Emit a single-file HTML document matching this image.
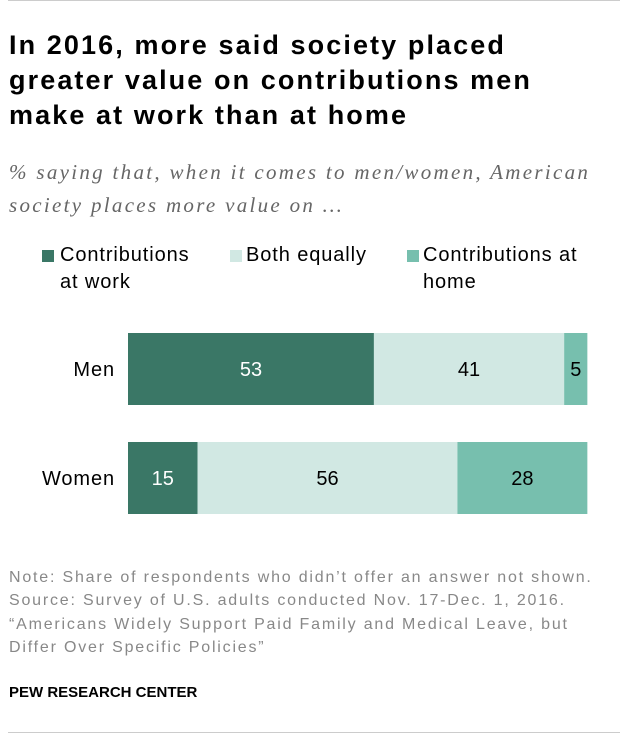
<!DOCTYPE html>
<html><head><meta charset="utf-8"><style>
body{margin:0;width:620px;height:742px;background:#fff;font-family:"Liberation Sans",sans-serif;position:relative;overflow:hidden}
#title{position:absolute;left:9px;top:28px;font-size:27px;letter-spacing:2.1px;font-weight:bold;line-height:35px;color:#000;white-space:nowrap}
#sub{position:absolute;left:9px;top:156px;font-family:"Liberation Serif",serif;font-style:italic;font-size:21px;letter-spacing:2.3px;line-height:33px;color:#666;white-space:nowrap}
.lg{position:absolute;font-size:20px;letter-spacing:0.9px;line-height:27px;color:#000;white-space:nowrap}
.sq{position:absolute;width:12px;height:12px}
#notes{position:absolute;left:9px;top:566px;font-size:16px;letter-spacing:1.8px;line-height:23.3px;color:#888;white-space:nowrap}
#pew{position:absolute;left:9px;top:684px;font-size:15px;font-weight:bold;color:#000}
</style></head><body>
<div style="position:absolute;left:8px;top:0;width:612px;height:1px;background:#ccc"></div>
<div id="title">In 2016, more said society placed<br>greater value on contributions men<br>make at work than at home</div>
<div id="sub">% saying that, when it comes to men/women, American<br>society places more value on …</div>
<div class="sq" style="left:42px;top:250px;background:#3a7766"></div>
<div class="lg" style="left:60px;top:242px">Contributions<br>at work</div>
<div class="sq" style="left:230px;top:250px;background:#d1e8e3"></div>
<div class="lg" style="left:246px;top:242px">Both equally</div>
<div class="sq" style="left:407px;top:250px;background:#77bfae"></div>
<div class="lg" style="left:423px;top:242px">Contributions at<br>home</div>
<svg id="chart" width="620" height="742" style="position:absolute;left:0;top:0"></svg>
<div id="notes">Note: Share of respondents who didn’t offer an answer not shown.<br>Source: Survey of U.S. adults conducted Nov. 17-Dec. 1, 2016.<br>“Americans Widely Support Paid Family and Medical Leave, but<br>Differ Over Specific Policies”</div>
<div id="pew">PEW RESEARCH CENTER</div>
<div style="position:absolute;left:8px;top:732px;width:612px;height:1px;background:#ccc"></div>
<script>
const categories=["Men","Women"];
const work=[53,15];
const both=[41,56];
const home=[5,28];
const colors=["#3a7766","#d1e8e3","#77bfae"];
const textColors=["#fff","#000","#000"];
const svg=document.getElementById('chart');
const NS="http://www.w3.org/2000/svg";
const x0=128,scale=4.64;
function xs(v){return x0+v*scale;}
const rowTop=[333,442],bh=72;
categories.forEach((c,i)=>{
  const y=rowTop[i];
  const lab=document.createElementNS(NS,'text');
  lab.setAttribute('x',115);lab.setAttribute('y',y+bh/2+7);lab.setAttribute('text-anchor','end');
  lab.setAttribute('font-size','20');lab.setAttribute('letter-spacing','0.9');lab.setAttribute('font-family','Liberation Sans, sans-serif');
  lab.textContent=c;
  
  
  svg.appendChild(lab);
  let cum=0;
  [work[i],both[i],home[i]].forEach((v,k)=>{
    const r=document.createElementNS(NS,'rect');
    r.setAttribute('x',xs(cum));r.setAttribute('y',y);
    r.setAttribute('width',xs(cum+v)-xs(cum));r.setAttribute('height',bh);
    r.setAttribute('fill',colors[k]);
    
    
    svg.appendChild(r);
    const t=document.createElementNS(NS,'text');
    t.setAttribute('x',(xs(cum)+xs(cum+v))/2);t.setAttribute('y',y+bh/2+7);
    t.setAttribute('text-anchor','middle');t.setAttribute('font-size','20');
    t.setAttribute('font-family','Liberation Sans, sans-serif');t.setAttribute('fill',textColors[k]);
    t.textContent=v;
    
    
    svg.appendChild(t);
    cum+=v;
  });
});
</script>
</body></html>
